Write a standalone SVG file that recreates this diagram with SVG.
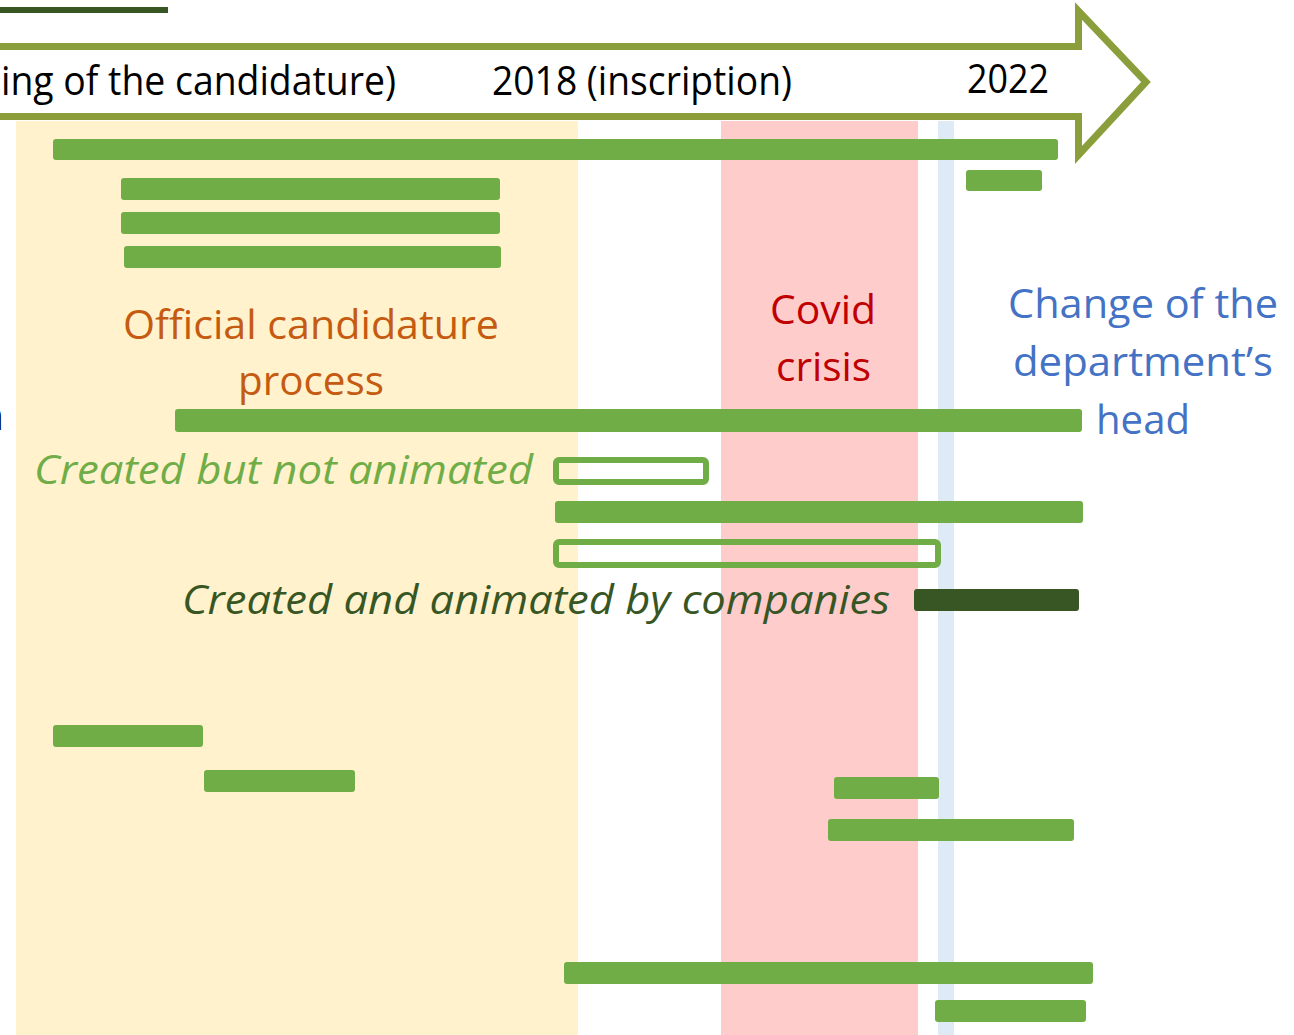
<svg xmlns="http://www.w3.org/2000/svg" width="1294" height="1035" viewBox="0 0 1294 1035">
  <style>
    .t { font-family: "Open Sans", "Noto Sans", "Liberation Sans", sans-serif; font-size: 40px; }
    .it { font-style: italic; }
    .bar { fill: #70AD47; }
    .obar { fill: none; stroke: #70AD47; stroke-width: 6; }
    .dark { fill: #375623; }
  </style>
  <rect width="1294" height="1035" fill="#FFFFFF"/>

  <g id="bands">
    <rect x="16" y="121" width="562" height="914" fill="#FFF2CC"/>
    <rect x="721" y="121" width="197" height="914" fill="#FFCCCC"/>
    <rect x="938" y="121" width="16" height="914" fill="#DEEBF7"/>
  </g>

  <g id="top-line">
    <rect x="0" y="7" width="168" height="6" class="dark"/>
  </g>

  <g id="timeline-arrow">
    <path d="M -10 46.5 H 1078.5 V 11 L 1146 82 L 1078.5 155 V 116.5 H -10" fill="none" stroke="#8A9F3B" stroke-width="7" stroke-linejoin="miter"/>
    <text class="t" x="1" y="95" textLength="395" lengthAdjust="spacingAndGlyphs" fill="#000000">ing of the candidature)</text>
    <text class="t" x="492" y="95" textLength="300" lengthAdjust="spacingAndGlyphs" fill="#000000">2018 (inscription)</text>
    <text class="t" x="967" y="93" textLength="82" lengthAdjust="spacingAndGlyphs" fill="#000000">2022</text>
  </g>

  <g id="label-official">
    <text class="t" x="123" y="339" textLength="376" lengthAdjust="spacingAndGlyphs" fill="#C55A11">Official candidature</text>
    <text class="t" x="238" y="395" textLength="146" lengthAdjust="spacingAndGlyphs" fill="#C55A11">process</text>
  </g>

  <g id="label-covid">
    <text class="t" x="770" y="324" textLength="106" lengthAdjust="spacingAndGlyphs" fill="#C00000">Covid</text>
    <text class="t" x="776" y="381" textLength="95" lengthAdjust="spacingAndGlyphs" fill="#C00000">crisis</text>
  </g>

  <g id="label-change">
    <text class="t" x="1008" y="318" textLength="270" lengthAdjust="spacingAndGlyphs" fill="#4472C4">Change of the</text>
    <text class="t" x="1013" y="376" textLength="260" lengthAdjust="spacingAndGlyphs" fill="#4472C4">department’s</text>
    <text class="t" x="1096" y="434" textLength="94" lengthAdjust="spacingAndGlyphs" fill="#4472C4">head</text>
  </g>

  <g id="label-cut">
    <text class="t" x="4" y="430" text-anchor="end" fill="#000000">n</text>
  </g>

  <g id="bars">
    <rect id="bar1" class="bar" x="53" y="139" width="1005" height="21" rx="3"/>
    <rect id="bar2" class="bar" x="966" y="170" width="76" height="21" rx="3"/>
    <rect id="bar3" class="bar" x="121" y="178" width="379" height="22" rx="3"/>
    <rect id="bar4" class="bar" x="121" y="212" width="379" height="22" rx="3"/>
    <rect id="bar5" class="bar" x="124" y="246" width="377" height="22" rx="3"/>
    <rect id="bar6" class="bar" x="175" y="409" width="907" height="23" rx="3"/>
    <rect id="bar7" class="obar" x="556" y="460" width="150" height="22" rx="3"/>
    <rect id="bar8" class="bar" x="555" y="501" width="528" height="22" rx="3"/>
    <rect id="bar9" class="obar" x="556" y="542" width="382" height="23" rx="3"/>
    <rect id="bar10" class="dark" x="914" y="589" width="165" height="22" rx="3"/>
    <rect id="bar11" class="bar" x="53" y="725" width="150" height="22" rx="3"/>
    <rect id="bar12" class="bar" x="204" y="770" width="151" height="22" rx="3"/>
    <rect id="bar13" class="bar" x="834" y="777" width="105" height="22" rx="3"/>
    <rect id="bar14" class="bar" x="828" y="819" width="246" height="22" rx="3"/>
    <rect id="bar15" class="bar" x="564" y="962" width="529" height="22" rx="3"/>
    <rect id="bar16" class="bar" x="935" y="1000" width="151" height="22" rx="3"/>
  </g>

  <g id="label-created-not-animated">
    <text class="t it" x="34" y="484" textLength="499" lengthAdjust="spacingAndGlyphs" fill="#70AD47">Created but not animated</text>
  </g>

  <g id="label-created-companies">
    <text class="t it" x="182" y="614" textLength="708" lengthAdjust="spacingAndGlyphs" fill="#375623">Created and animated by companies</text>
  </g>

  <g id="connectors"></g>
</svg>
